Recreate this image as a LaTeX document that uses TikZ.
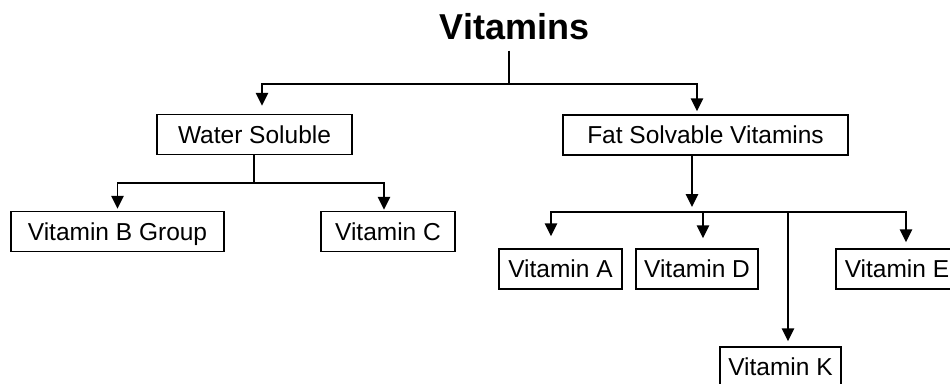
\documentclass[tikz,border=0pt]{standalone}
\usepackage{fontspec}
\setmainfont{Liberation Sans}
\usetikzlibrary{arrows.meta}

\begin{document}
\begin{tikzpicture}[x=1pt,y=-1pt,
  box/.style={draw,line width=1.5pt,inner sep=0pt,minimum height=40pt,
    text height=17.2pt,text depth=0pt,font=\fontsize{24.5}{28}\selectfont},
  link/.style={line width=1.5pt},
  arrow/.style={link,-{Triangle[length=13pt,width=12.5pt]}}]
\useasboundingbox (0,0) rectangle (950,383);

\node[font=\bfseries\fontsize{36}{40}\selectfont,anchor=base,inner ysep=11pt] (title) at (514.5,39) {Vitamins};

\node[box,minimum width=195pt] (water) at (254.5,134.5) {Water Soluble};
\node[box,minimum width=285pt] (fat) at (705.5,135) {Fat Solvable Vitamins};

\node[box,minimum width=213pt] (vitB) at (117.5,231.5) {Vitamin B Group};
\node[box,minimum width=134pt] (vitC) at (388,231.5) {Vitamin C};

\node[box,minimum width=123pt] (vitA) at (560.5,269) {Vitamin A};
\node[box,minimum width=122pt] (vitD) at (697,269) {Vitamin D};
\node[box,minimum width=122pt] (vitE) at (897,269) {Vitamin E};
\node[box,minimum width=121pt] (vitK) at (780.5,367) {Vitamin K};

% junctions
\coordinate (top) at (509,84);
\coordinate (wjoin) at (254,183);
\coordinate (fjoin) at (692,212);

\draw[link] (title.south -| top) -- (top);
\draw[arrow,shorten >=8pt] (top) -| ([xshift=7.5]water.north);
\draw[arrow,shorten >=3pt] (top) -| ([xshift=-8.5]fat.north);

\draw[link] (water.south -| wjoin) -- (wjoin);
\draw[arrow,shorten >=2pt] (wjoin) -| (vitB.north);
\draw[arrow,shorten >=1pt] (wjoin) -| ([xshift=-4]vitC.north);

\draw[arrow,shorten >=5pt] (fat.south -| fjoin) -- (fjoin);
\draw[arrow,shorten >=12pt] (fjoin) -| ([xshift=-9.5]vitA.north);
\draw[arrow,shorten >=10pt] (fjoin) -| ([xshift=6]vitD.north);
\draw[arrow,shorten >=5pt] (fjoin) -| ([xshift=7.5]vitK.north);
\draw[arrow,shorten >=6pt] (fjoin) -| ([xshift=9]vitE.north);

\end{tikzpicture}
\end{document}
